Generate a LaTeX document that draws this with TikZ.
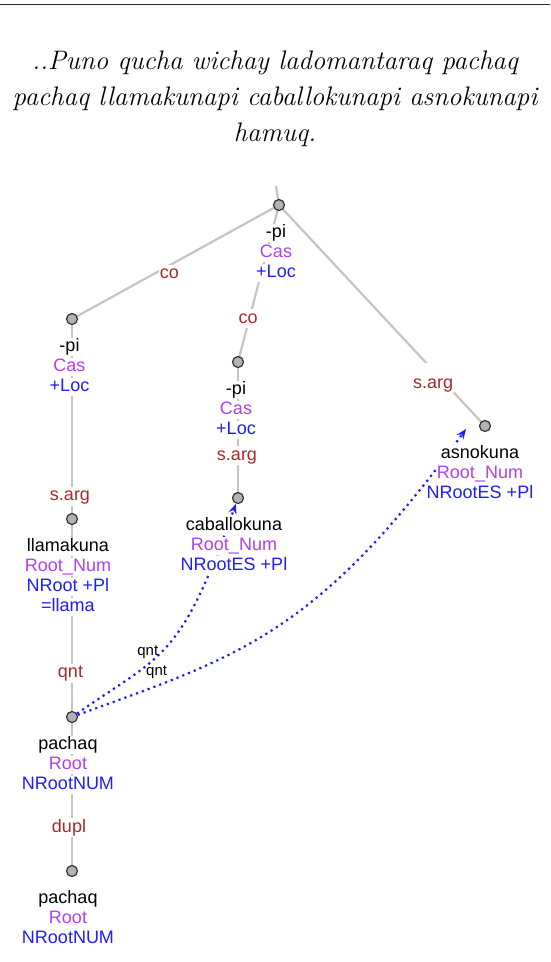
\documentclass[tikz,border=0pt]{standalone}
\usepackage{fontspec}
\newfontfamily\lsans{Liberation Sans}
\usetikzlibrary{positioning, arrows.meta, backgrounds}
\definecolor{epurple}{RGB}{176,64,240}
\definecolor{eblue}{RGB}{30,30,250}
\definecolor{ebrown}{RGB}{170,40,40}
\definecolor{egray}{RGB}{196,196,196}
\setlength{\fboxsep}{0.5pt}
\newcommand{\wl}[2]{\colorbox{white}{\rule[-4.5pt]{0pt}{14.5pt}\textcolor{#1}{#2}}}

\begin{document}
\begin{tikzpicture}[x=1pt, y=-1pt,
    font=\lsans\fontsize{18}{20}\selectfont,
    tn/.style={circle, draw=black!80, fill=black!30, line width=1.2pt,
               minimum size=11pt, inner sep=0pt},
    stack/.style={align=center, inner sep=0pt},
    edge/.style={draw=egray, line width=2.2pt},
    elab/.style={fill=white, inner sep=1pt, text=ebrown, text height=13pt, text depth=4pt},
    dep/.style={eblue, line width=2.2pt, dash pattern=on 2.2pt off 4pt,
                -{Stealth[length=10pt, width=8pt]}},
    qlab/.style={font=\lsans\fontsize{15}{16}\selectfont, inner sep=0pt, text=black},
  ]
  \useasboundingbox (0,0) rectangle (550,962);
  \draw[line width=1.3pt, black!85] (0,4.2) -- (550,4.2);

  % ---- sentence
  \node[align=center, font=\rmfamily\itshape\fontsize{26.8}{36}\selectfont] (sent) at (275,99)
    {..Puno qucha wichay ladomantaraq pachaq\\pachaq llamakunapi caballokunapi asnokunapi\\hamuq.};

  % ---- tree nodes
  \coordinate (top) at (276,186);
  \node[tn] (r) at (279,205) {};
  \node[tn] (lpi) at (72,319) {};
  \node[tn] (mpi) at (238,362) {};
  \node[tn] (asn) at (485,426) {};
  \node[tn] (cab) at (238,498) {};
  \node[tn] (llama) at (72,519) {};
  \node[tn] (pq1) at (72,717) {};
  \node[tn] (pq2) at (72,871) {};
  \coordinate (asnin) at ([xshift=-19pt, yshift=-3pt]asn.center);

  % ---- word labels
  \node[stack, below=12.5pt of r, xshift=-3pt] (rs)
    {\wl{black}{-pi}\\\wl{epurple}{Cas}\\\wl{eblue}{+Loc}};
  \node[stack, below=12.5pt of lpi, xshift=-2.5pt] (lpis)
    {\wl{black}{-pi}\\\wl{epurple}{Cas}\\\wl{eblue}{+Loc}};
  \node[stack, below=12.5pt of mpi, xshift=-2pt] (mpis)
    {\wl{black}{-pi}\\\wl{epurple}{Cas}\\\wl{eblue}{+Loc}};
  \node[stack, below=12.5pt of asn, xshift=-5pt] (asns)
    {\wl{black}{asnokuna}\\\wl{epurple}{Root\_Num}\\\wl{eblue}{NRootES +Pl}};
  \node[stack, below=12.5pt of cab, xshift=-4pt] (cabs)
    {\wl{black}{caballokuna}\\\wl{epurple}{Root\_Num}\\\wl{eblue}{NRootES +Pl}};
  \node[stack, below=12.5pt of llama, xshift=-4pt] (llamas)
    {\wl{black}{llamakuna}\\\wl{epurple}{Root\_Num}\\\wl{eblue}{NRoot +Pl}\\\wl{eblue}{=llama}};
  \node[stack, below=12.5pt of pq1, xshift=-4pt] (pq1s)
    {\wl{black}{pachaq}\\\wl{epurple}{Root}\\\wl{eblue}{NRootNUM}};
  \node[stack, below=12.5pt of pq2, xshift=-4pt] (pq2s)
    {\wl{black}{pachaq}\\\wl{epurple}{Root}\\\wl{eblue}{NRootNUM}};

  \begin{scope}[on background layer]
    % ---- tree edges
    \draw[edge] (top) -- (r.center);
    \draw[edge] (r.center) -- node[elab, pos=0.53, yshift=-9pt] (e1) {co} (lpi.center);
    \draw[edge] (r.center) -- node[elab, pos=0.726, xshift=-1pt] (e2) {co} (mpi.center);
    \draw[edge] (r.center) -- node[elab, pos=0.748, text height=24pt, yshift=-7.7pt] (e3) {s.arg} (asn.center);
    \draw[edge] (lpi.center) -- node[elab, pos=0.885, xshift=-2pt] (e4) {s.arg} (llama.center);
    \draw[edge] (mpi.center) -- node[elab, pos=0.69, xshift=-1pt] (e5) {s.arg} (cab.center);
    \draw[edge] (llama.center) -- node[elab, pos=0.778, xshift=-1.5pt] (e6) {qnt} (pq1.center);
    \draw[edge] (pq1.center) -- node[elab, pos=0.72, xshift=-3pt] (e7) {dupl} (pq2.center);

    % ---- dependency arcs
    \draw[dep] (pq1) .. controls (163.8,653.2) and (179.5,660.9) ..
      node[qlab, pos=0.35, yshift=13pt, xshift=1pt] (q1) {qnt} (cab);
    \draw[dep] (pq1) .. controls (236.5,657) and (316,636) ..
      node[qlab, pos=0.18, yshift=13.5pt] (q2) {qnt} (asnin);
  \end{scope}
\end{tikzpicture}
\end{document}
